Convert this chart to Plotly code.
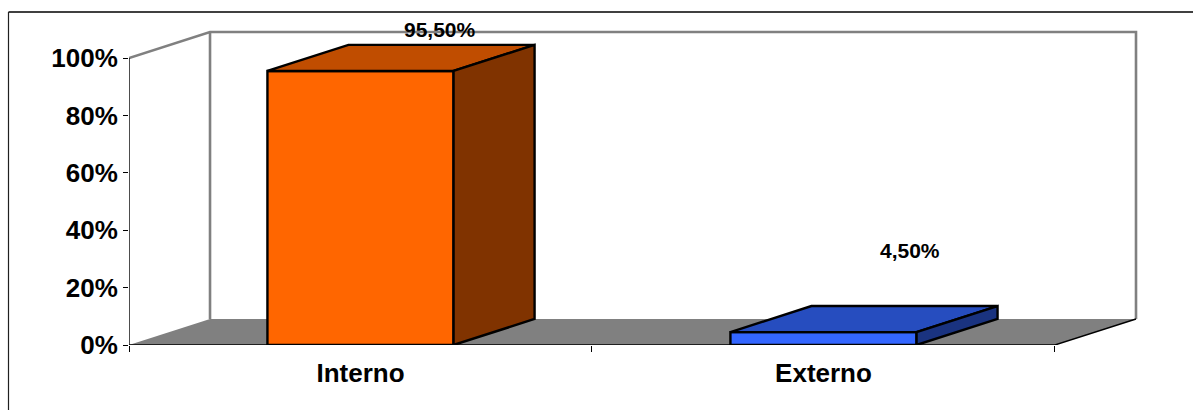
import plotly.graph_objects as go

# Chart data
categories = ["Interno", "Externo"]
shares = [95.5, 4.5]
axis_ticks = [0, 20, 40, 60, 80, 100]
axis_tick_labels = ["0%", "20%", "40%", "60%", "80%", "100%"]

# Oblique projection of the 3D box, in axis units
DEPTH_X = 0.175
DEPTH_Y = 9.07
BAR_WIDTH = 0.402
X_MIN, X_MAX = -0.5, 1.5
Y_TOP = 100
# Spare room past the walls so their strokes keep full width at the plot edge
PAD_PX = 6
PX_PER_X = 462.75
PX_PER_Y = 2.866
FONT = "Liberation Sans"

FRONT = ["#FF6600", "#3366FF"]
TOP = ["#C04D00", "#264DBF"]
SIDE = ["#803300", "#1A3380"]
LABEL_SHIFT = [(80, 41), (87, 82)]

fig = go.Figure()


def polygon(xs, ys, fill, line_color=None, width=0):
    fig.add_trace(go.Scatter(
        x=xs + xs[:1], y=ys + ys[:1], mode="lines", fill="toself", fillcolor=fill,
        line=dict(color=line_color or fill, width=width), hoverinfo="skip",
        showlegend=False, cliponaxis=False))


def path(xs, ys, color, width):
    fig.add_trace(go.Scatter(
        x=xs, y=ys, mode="lines", line=dict(color=color, width=width),
        hoverinfo="skip", showlegend=False, cliponaxis=False))


# Floor of the box
polygon([X_MIN, X_MAX, X_MAX + DEPTH_X, X_MIN + DEPTH_X], [0, 0, DEPTH_Y, DEPTH_Y], "#808080")

# Back and side walls
path([X_MIN, X_MIN + DEPTH_X, X_MAX + DEPTH_X, X_MAX + DEPTH_X],
     [Y_TOP, Y_TOP + DEPTH_Y, Y_TOP + DEPTH_Y, DEPTH_Y], "#808080", 2.6)
path([X_MIN + DEPTH_X, X_MIN + DEPTH_X], [DEPTH_Y, Y_TOP + DEPTH_Y], "#808080", 2.6)

# Front axis lines and the floor's right edge
path([X_MIN, X_MIN], [0, Y_TOP], "#000000", 1.4)
path([X_MIN, X_MAX, X_MAX + DEPTH_X], [0, 0, DEPTH_Y], "#000000", 1.4)

# Bars: front, top and side faces, with value labels above and behind them
for i, value in enumerate(shares):
    left, right = i - BAR_WIDTH / 2, i + BAR_WIDTH / 2
    polygon([left, right, right, left], [0, 0, value, value], FRONT[i], "#000000", 2.4)
    polygon([left, right, right + DEPTH_X, left + DEPTH_X],
            [value, value, value + DEPTH_Y, value + DEPTH_Y], TOP[i], "#000000", 2.4)
    polygon([right, right + DEPTH_X, right + DEPTH_X, right],
            [0, DEPTH_Y, value + DEPTH_Y, value], SIDE[i], "#000000", 2.4)
    fig.add_annotation(
        x=i, y=value, text=f"<b>{value:.2f}%</b>".replace(".", ","),
        showarrow=False, xshift=LABEL_SHIFT[i][0], yshift=LABEL_SHIFT[i][1],
        font=dict(family=FONT, size=21, color="#000000"))

# Frame around the chart, open on the right and at the bottom
WIDTH, HEIGHT = 1193, 410
M_L, M_R, M_T, M_B = 129, 57 - PAD_PX, 32 - PAD_PX, 65
plot_w, plot_h = WIDTH - M_L - M_R, HEIGHT - M_T - M_B
frame_left = (8.5 - M_L) / plot_w
frame_top = 1 + (M_T - 12) / plot_h
fig.add_shape(type="line", xref="paper", yref="paper", x0=frame_left, x1=1 + M_R / plot_w,
              y0=frame_top, y1=frame_top, line=dict(color="#404040", width=2))
fig.add_shape(type="line", xref="paper", yref="paper", x0=frame_left, x1=frame_left,
              y0=frame_top, y1=-M_B / plot_h, line=dict(color="#202020", width=1.2))

fig.update_layout(
    width=WIDTH, height=HEIGHT,
    margin=dict(l=M_L, r=M_R, t=M_T, b=M_B),
    paper_bgcolor="white", plot_bgcolor="white",
    showlegend=False,
    xaxis=dict(
        range=[X_MIN, X_MAX + DEPTH_X + PAD_PX / PX_PER_X],
        tickvals=list(range(len(categories))),
        ticktext=[f"<b>{c}</b>" for c in categories], ticks="", showgrid=False, zeroline=False,
        showline=False, tickfont=dict(family=FONT, size=26, color="#000000"),
        ticklabelstandoff=10,
        minor=dict(tickvals=[X_MIN, 0.5, X_MAX], ticks="outside", ticklen=6,
                   tickcolor="#000000", tickwidth=1, showgrid=False)),
    yaxis=dict(
        range=[0, Y_TOP + DEPTH_Y + PAD_PX / PX_PER_Y], tickvals=axis_ticks,
        ticktext=[f"<b>{t}</b>" for t in axis_tick_labels],
        ticks="outside", ticklen=5, tickcolor="#000000", tickwidth=1,
        showgrid=False, zeroline=False, showline=False,
        tickfont=dict(family=FONT, size=26, color="#000000")),
)

fig.write_html("out.html")
